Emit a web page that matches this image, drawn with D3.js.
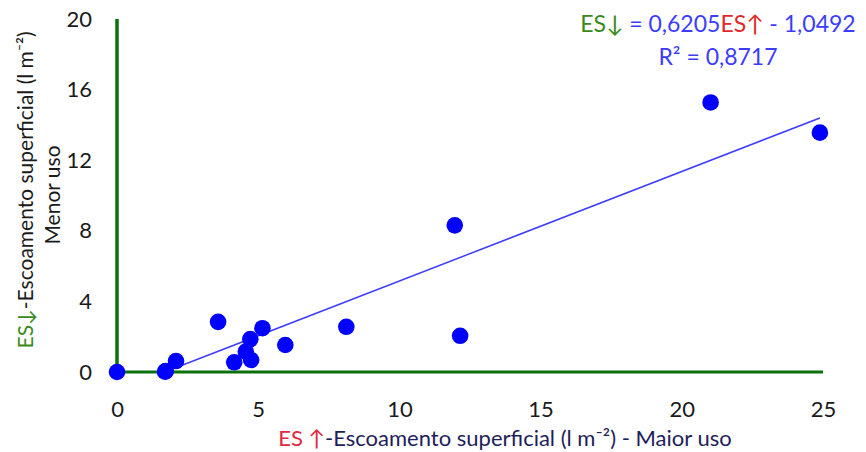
<!DOCTYPE html>
<head>
    <title>ES scatter</title>
    <meta charset="utf-8">
    <style>
        body { margin: 0; background: #fff; }
        text { font-family: Lato, "Open Sans", sans-serif; }
    </style>
</head>

<body>
<div id="chart"></div>

<script src="https://d3js.org/d3.v7.min.js"></script>

<script>

var margin = {top: 19, right: 43, bottom: 80, left: 117},
    width = 866 - margin.left - margin.right,
    height = 452 - margin.top - margin.bottom;

// Data
var esMaior = [0, 1.70, 1.73, 2.09, 3.58, 4.15, 4.56, 4.72, 4.75, 5.15, 5.96, 8.12, 11.96, 12.15, 21.02, 24.89];
var esMenor = [0, 0.02, 0.05, 0.62, 2.84, 0.55, 1.16, 1.86, 0.68, 2.48, 1.53, 2.56, 8.31, 2.05, 15.27, 13.56];
var xTicks = [0, 5, 10, 15, 20, 25];
var yTicks = [0, 4, 8, 12, 16, 20];
var slope = 0.6205, intercept = -1.0492;

var points = esMaior.map(function(x, i) { return {x: x, y: esMenor[i]}; });

var svg = d3.select("#chart").append("svg")
    .attr("width", width + margin.left + margin.right)
    .attr("height", height + margin.top + margin.bottom);

var g = svg.append("g")
    .attr("transform", "translate(" + margin.left + "," + margin.top + ")");

var x = d3.scaleLinear().domain([0, 25]).range([0, width]);
var y = d3.scaleLinear().domain([0, 20]).range([height, 0]);

g.append("clipPath").attr("id", "clip")
    .append("rect").attr("width", width).attr("height", height);

// tick labels
var xAxis = g.append("g")
    .attr("transform", "translate(0," + height + ")")
    .call(d3.axisBottom(x).tickValues(xTicks).tickSize(0).tickPadding(29));
var yAxis = g.append("g")
    .call(d3.axisLeft(y).tickValues(yTicks).tickSize(0).tickPadding(25));
[xAxis, yAxis].forEach(function(a) {
    a.select(".domain").remove();
    a.selectAll("text").style("font-size", "22px").attr("fill", "#1a1a1a");
});

// trend line
var x0 = (0 - intercept) / slope;
g.append("line")
    .attr("clip-path", "url(#clip)")
    .attr("x1", x(x0)).attr("y1", y(slope * x0 + intercept))
    .attr("x2", x(d3.max(esMaior))).attr("y2", y(slope * d3.max(esMaior) + intercept))
    .attr("stroke", "#3c3cff")
    .attr("stroke-width", 1.5);

// axes lines
g.append("line")
    .attr("x1", 0).attr("x2", width).attr("y1", height).attr("y2", height)
    .attr("stroke", "#0a700a").attr("stroke-width", 3);
g.append("line")
    .attr("x1", 0).attr("x2", 0).attr("y1", 0).attr("y2", height)
    .attr("stroke", "#0a700a").attr("stroke-width", 3.5);

// points
g.selectAll("circle")
    .data(points)
    .enter().append("circle")
    .attr("cx", function(d) { return x(d.x); })
    .attr("cy", function(d) { return y(d.y); })
    .attr("r", 8.3)
    .attr("fill", "#0000ff");

// equation
var eq = svg.append("text")
    .attr("x", 718).attr("y", 32)
    .attr("text-anchor", "middle")
    .style("font-size", "23px");
eq.append("tspan").attr("fill", "#3a8a1a").text("ES\u2193");
eq.append("tspan").attr("fill", "#3c3cff").text(" = 0,6205");
eq.append("tspan").attr("fill", "#e02828").text("ES\u2191");
eq.append("tspan").attr("fill", "#3c3cff").text(" - 1,0492");

svg.append("text")
    .attr("x", 718).attr("y", 65)
    .attr("text-anchor", "middle")
    .style("font-size", "23px")
    .attr("fill", "#3c3cff")
    .text("R\u00b2 = 0,8717");

// x label
var xl = svg.append("text")
    .attr("x", 505).attr("y", 446)
    .attr("text-anchor", "middle")
    .style("font-size", "22px")
    .attr("fill", "#1e1e5a");
xl.append("tspan").attr("fill", "#e02840").text("ES \u2191");
xl.append("tspan").text("-Escoamento superficial (l m\u207b\u00b2) - Maior uso");

// y label
var yl = svg.append("text")
    .attr("transform", "translate(33,190) rotate(-90)")
    .attr("text-anchor", "middle")
    .style("font-size", "21px")
    .attr("fill", "#1a1a1a");
yl.append("tspan").attr("fill", "#3a8a1a").text("ES\u2193");
yl.append("tspan").text("-Escoamento superficial  (l m\u207b\u00b2)");

svg.append("text")
    .attr("transform", "translate(60,195) rotate(-90)")
    .attr("text-anchor", "middle")
    .style("font-size", "21px")
    .attr("fill", "#1a1a1a")
    .text("Menor uso");

</script>

</body>
</html>
